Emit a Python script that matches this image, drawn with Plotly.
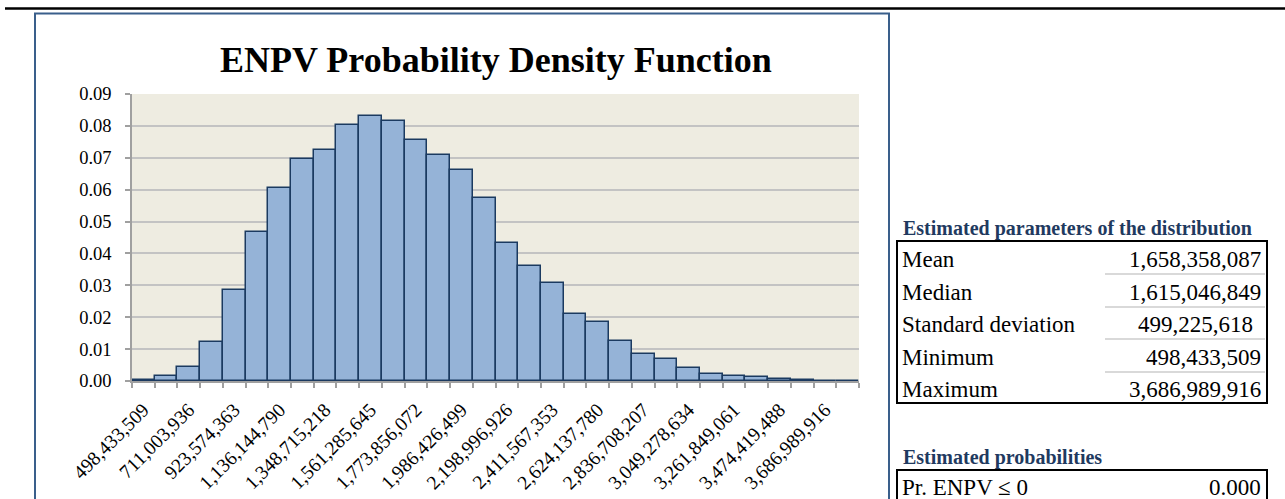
import plotly.graph_objects as go

# ---------------- data ----------------
bin_labels = ["498,433,509", "711,003,936", "923,574,363", "1,136,144,790",
              "1,348,715,218", "1,561,285,645", "1,773,856,072", "1,986,426,499",
              "2,198,996,926", "2,411,567,353", "2,624,137,780", "2,836,708,207",
              "3,049,278,634", "3,261,849,061", "3,474,419,488", "3,686,989,916"]
density = [0.0002, 0.0015, 0.0045, 0.0121, 0.0286, 0.0468, 0.0605, 0.0696,
           0.0723, 0.0803, 0.0831, 0.0816, 0.0755, 0.0709, 0.0662, 0.0575,
           0.0433, 0.0361, 0.0308, 0.0210, 0.0184, 0.0126, 0.0085, 0.0070,
           0.0042, 0.0021, 0.0015, 0.0014, 0.0006, 0.0003, 0.0001, 0.0001]
param_names = ["Mean", "Median", "Standard deviation", "Minimum", "Maximum"]
param_values = ["1,658,358,087", "1,615,046,849", "499,225,618", "498,433,509", "3,686,989,916"]
prob_names = ["Pr. ENPV \u2264 0"]
prob_values = ["0.000"]

title_text = "ENPV Probability Density Function"
params_heading = "Estimated parameters of the distribution"
probs_heading = "Estimated probabilities"

# ---------------- layout geometry (pixels) ----------------
W, H = 1285, 499
L, R, T, B = 132, 859, 94, 381
SERIF = "Liberation Serif, Times New Roman, serif"
HEAD_COLOR = "#1f3a60"
TABLE_FS = 23
YTICK_FS = 18.5
XTICK_FS = 19.5


def px(x):
    return (x - L) / (R - L)


def py(y):
    return (B - y) / (B - T)


idx = list(range(len(density)))

fig = go.Figure()
fig.add_trace(go.Bar(
    x=idx, y=density,
    width=1.0,
    marker=dict(color="#95b3d7", line=dict(color="#1b3a60", width=1.5)),
    showlegend=False,
))

shapes = []
annotations = []

# top black rule
shapes.append(dict(type="line", xref="paper", yref="paper",
                   x0=px(5), x1=px(1285), y0=py(8.5), y1=py(8.5),
                   line=dict(color="black", width=2.5)))
# chart frame
shapes.append(dict(type="rect", xref="paper", yref="paper",
                   x0=px(35), x1=px(889), y0=py(13.5), y1=py(520),
                   line=dict(color="#3a5f8b", width=2)))

# title
annotations.append(dict(text="<b>" + title_text + "</b>", xref="paper", yref="paper",
                        x=px(496), y=py(60), xanchor="center", yanchor="middle",
                        showarrow=False, font=dict(family=SERIF, size=36, color="black")))

# parameters table
annotations.append(dict(text="<b>" + params_heading + "</b>", xref="paper", yref="paper",
                        x=px(901), y=py(228), xanchor="left", yanchor="middle",
                        showarrow=False, font=dict(family=SERIF, size=20, color=HEAD_COLOR)))
shapes.append(dict(type="rect", xref="paper", yref="paper",
                   x0=px(897), x1=px(1267), y0=py(241), y1=py(403),
                   line=dict(color="black", width=2)))
row_y = [259, 292, 324, 357, 389]
value_right = [1263, 1263, 1255, 1263, 1263]
for i, (n, v) in enumerate(zip(param_names, param_values)):
    annotations.append(dict(text=n, xref="paper", yref="paper",
                            x=px(900), y=py(row_y[i]), xanchor="left", yanchor="middle",
                            showarrow=False, font=dict(family=SERIF, size=TABLE_FS, color="black")))
    annotations.append(dict(text=v, xref="paper", yref="paper",
                            x=px(value_right[i]), y=py(row_y[i]), xanchor="right", yanchor="middle",
                            showarrow=False, font=dict(family=SERIF, size=TABLE_FS, color="black")))
for yy in [274, 307, 339, 372]:
    shapes.append(dict(type="line", xref="paper", yref="paper",
                       x0=px(1105), x1=px(1265), y0=py(yy), y1=py(yy),
                       line=dict(color="#d9d9d9", width=2)))

# probabilities table
annotations.append(dict(text="<b>" + probs_heading + "</b>", xref="paper", yref="paper",
                        x=px(901), y=py(457), xanchor="left", yanchor="middle",
                        showarrow=False, font=dict(family=SERIF, size=20, color=HEAD_COLOR)))
shapes.append(dict(type="rect", xref="paper", yref="paper",
                   x0=px(897), x1=px(1267), y0=py(470), y1=py(520),
                   line=dict(color="black", width=2)))
for i, (n, v) in enumerate(zip(prob_names, prob_values)):
    annotations.append(dict(text=n, xref="paper", yref="paper",
                            x=px(900), y=py(487), xanchor="left", yanchor="middle",
                            showarrow=False, font=dict(family=SERIF, size=TABLE_FS, color="black")))
    annotations.append(dict(text=v, xref="paper", yref="paper",
                            x=px(1263), y=py(487), xanchor="right", yanchor="middle",
                            showarrow=False, font=dict(family=SERIF, size=TABLE_FS, color="black")))

fig.update_layout(
    width=W, height=H,
    margin=dict(l=L, r=W - R, t=T, b=H - B, pad=0),
    paper_bgcolor="white",
    plot_bgcolor="#eeece1",
    bargap=0,
    shapes=shapes,
    annotations=annotations,
    font=dict(family=SERIF, color="black"),
    xaxis=dict(
        range=[-0.5, len(density) - 0.5],
        automargin=False,
        tickmode="array",
        tickvals=idx[::2][:len(bin_labels)],
        ticktext=bin_labels,
        tickangle=-45,
        ticks="",
        ticklabelstandoff=8,
        showgrid=False,
        zeroline=False,
        showline=True, linecolor="#a0a0a0", linewidth=1.5,
        tickfont=dict(family=SERIF, size=XTICK_FS, color="black"),
        minor=dict(ticks="outside", tick0=-0.5, dtick=1, ticklen=5,
                   tickcolor="#a0a0a0", tickwidth=1.5, showgrid=False),
    ),
    yaxis=dict(
        range=[0, 0.09],
        automargin=False,
        dtick=0.01,
        tickformat=".2f",
        ticks="outside", ticklen=5, tickcolor="#a0a0a0", tickwidth=1.5,
        ticklabelstandoff=10,
        showgrid=True, gridcolor="#c3c3c3", gridwidth=1.5,
        zeroline=False,
        showline=True, linecolor="#a0a0a0", linewidth=1.5,
        tickfont=dict(family=SERIF, size=YTICK_FS, color="black"),
    ),
)

fig.write_html("out.html", config={"displayModeBar": False},
               post_script="document.body.style.margin='0';")
